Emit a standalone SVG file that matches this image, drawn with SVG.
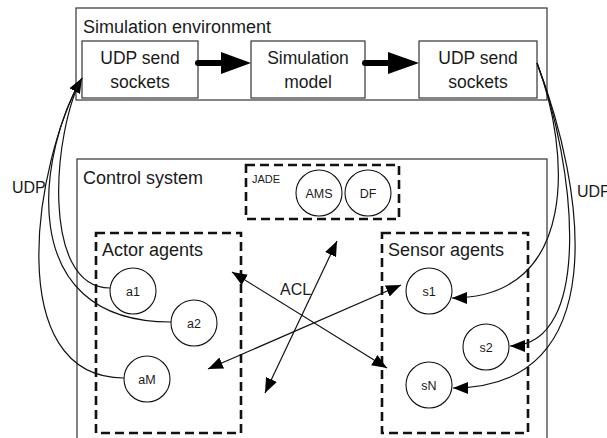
<svg xmlns="http://www.w3.org/2000/svg" width="607" height="438" viewBox="0 0 607 438">
<style>
text{font-family:"Liberation Sans",Arial,sans-serif;fill:#1a1a1a}
.box{fill:#fff;stroke:#333;stroke-width:1.2}
.dash{fill:none;stroke:#111;stroke-width:2.6;stroke-dasharray:9 5}
.circ{fill:#fff;stroke:#111;stroke-width:1.1}
.big{font-size:18px}
.mid{font-size:17.5px;text-anchor:middle}
.small{font-size:12.5px;text-anchor:middle}
.conn{fill:none;stroke:#111;stroke-width:1.2}
.thick{fill:none;stroke:#000;stroke-width:6;stroke-linecap:round}
</style>
<defs>
<marker id="ah" markerUnits="userSpaceOnUse" markerWidth="16" markerHeight="14" refX="15" refY="7" orient="auto-start-reverse" viewBox="0 0 16 14">
<path d="M0,1 L15,7 L0,13 Z" fill="#000"/>
</marker>
</defs>
<rect x="0" y="0" width="607" height="438" fill="#fff"/>

<g id="simulation-environment">
<rect class="box" x="76" y="8" width="471" height="92"/>
<text class="big" x="83" y="33">Simulation environment</text>
</g>
<g id="udp-left">
<rect class="box" x="82" y="41" width="116" height="57"/>
<text class="mid" x="140" y="64">UDP send</text>
<text class="mid" x="140" y="88">sockets</text>
</g>
<g id="simulation-model">
<rect class="box" x="251" y="41" width="114" height="57"/>
<text class="mid" x="308" y="64">Simulation</text>
<text class="mid" x="308" y="88">model</text>
</g>
<g id="udp-right">
<rect class="box" x="419" y="41" width="118" height="57"/>
<text class="mid" x="478" y="64">UDP send</text>
<text class="mid" x="478" y="88">sockets</text>
</g>

<g id="control-system">
<rect class="box" x="77" y="159" width="470" height="300"/>
<text class="big" x="83" y="184">Control system</text>
</g>
<g id="jade">
<rect class="dash" x="246" y="165" width="153" height="54"/>
<text x="252" y="183" font-size="11">JADE</text>
</g>
<g id="ams">
<circle class="circ" cx="319" cy="193" r="23"/>
<text class="small" x="319" y="197.5">AMS</text>
</g>
<g id="df">
<circle class="circ" cx="368" cy="193" r="23"/>
<text class="small" x="368" y="197.5">DF</text>
</g>
<g id="actor-agents">
<rect class="dash" x="96" y="233" width="145" height="200"/>
<text class="big" x="102" y="256">Actor agents</text>
</g>
<g id="sensor-agents">
<rect class="dash" x="382" y="233" width="146" height="200"/>
<text class="big" x="388" y="256">Sensor agents</text>
</g>

<g id="connectors">
<path class="thick" d="M198,63 H224"/>
<path d="M221,52 L251,63 L221,74 Z" fill="#000"/>
<path class="thick" d="M365,63 H390"/>
<path d="M388,52 L419,63 L388,74 Z" fill="#000"/>
<path class="conn" d="M110,288 C40,288 53,130 82,78" marker-end="url(#ah)"/>
<path class="conn" d="M171,322 C10,322 40,148 82,78"/>
<path class="conn" d="M124,378 C0,378 35,160 82,78"/>
<path class="conn" d="M537,63 C570,150 580,298 452,298" marker-end="url(#ah)"/>
<path class="conn" d="M537,63 C575,163 595,346 510,346" marker-end="url(#ah)"/>
<path class="conn" d="M537,63 C585,189 615,388 453,388" marker-end="url(#ah)"/>
<line class="conn" x1="232" y1="272" x2="387" y2="368" marker-start="url(#ah)" marker-end="url(#ah)"/>
<line class="conn" x1="208" y1="369" x2="401" y2="285" marker-start="url(#ah)" marker-end="url(#ah)"/>
<line class="conn" x1="265" y1="393" x2="337" y2="241" marker-start="url(#ah)" marker-end="url(#ah)"/>
<text x="12" y="193" font-size="16">UDP</text>
<text x="577" y="197" font-size="16">UDP</text>
<text x="280" y="295" font-size="16">ACL</text>
</g>

<g id="a1"><circle class="circ" cx="133" cy="291" r="23"/><text class="small" x="133" y="295.5">a1</text></g>
<g id="a2"><circle class="circ" cx="194" cy="323" r="23"/><text class="small" x="194" y="327.5">a2</text></g>
<g id="aM"><circle class="circ" cx="147" cy="379" r="23"/><text class="small" x="147" y="383.5">aM</text></g>
<g id="s1"><circle class="circ" cx="429" cy="291" r="23"/><text class="small" x="429" y="295.5">s1</text></g>
<g id="s2"><circle class="circ" cx="486" cy="347" r="23"/><text class="small" x="486" y="351.5">s2</text></g>
<g id="sN"><circle class="circ" cx="429" cy="385" r="23"/><text class="small" x="429" y="389.5">sN</text></g>
</svg>
